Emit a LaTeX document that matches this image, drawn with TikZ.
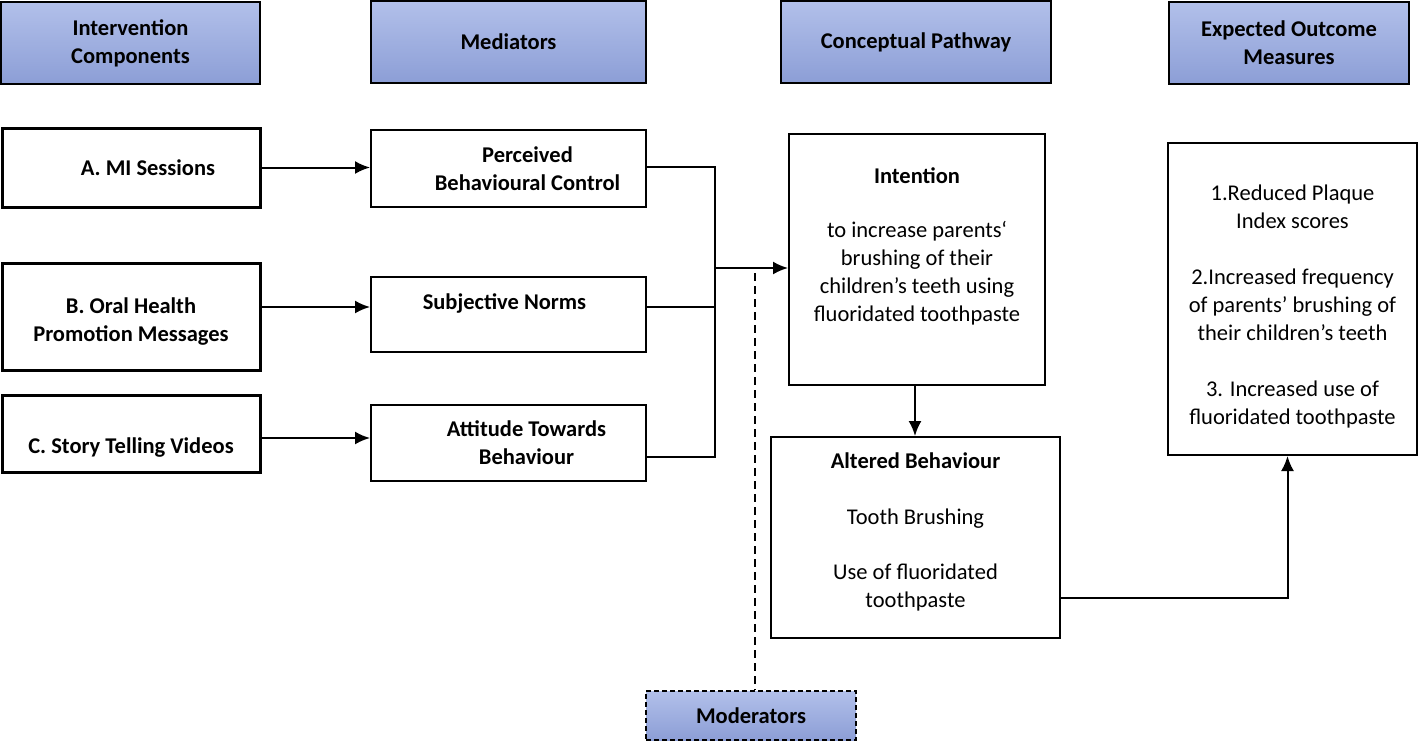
\documentclass[tikz,border=0pt]{standalone}
\usepackage{fontspec}
\setmainfont{Carlito}
\usetikzlibrary{arrows.meta,positioning,calc}

\begin{document}
\begin{tikzpicture}[x=1pt,y=-1pt,
	head/.style={draw,line width=1.2pt,top color={rgb,255:red,178;green,192;blue,234},bottom color={rgb,255:red,140;green,158;blue,214},align=center,font=\bfseries,inner sep=0pt},
	box/.style={draw,line width=2pt,fill=white,align=center,inner sep=0pt},
	comp/.style={box,line width=3pt,font=\bfseries,minimum width=258},
	link/.style={line width=2pt},
	arr/.style={line width=2pt,-{Latex[length=15pt,width=13pt]}}]
	\useasboundingbox (0,0) rectangle (1419,742);
	\fontsize{22.5}{28}\selectfont
	% headers
	\node[head,minimum width=259,minimum height=82] (h1) at (130.5,43) {Intervention\\Components};
	\node[head,minimum width=275,minimum height=82] (h2) at (508.5,42) {Mediators};
	\node[head,minimum width=270,minimum height=82] (h3) at (916,42) {Conceptual Pathway};
	\node[head,minimum width=240,minimum height=82] (h4) at (1289,43) {Expected Outcome\\Measures};
	% intervention components
	\node[comp,minimum height=79] (compA) at (131,167.5) {\hspace*{34pt}A. MI Sessions};
	\node[comp,minimum height=107] (compB) at (131,316.5) {\rule{0pt}{25pt}B. Oral Health\\Promotion Messages};
	\node[comp,minimum height=77] (compC) at (131,434) {\rule{0pt}{43pt}C. Story Telling Videos};
	% mediators
	\node[box,font=\bfseries,minimum width=275,minimum height=77] (pbc) at (508.5,168.5) {\hspace*{38pt}Perceived\\\hspace*{38pt}Behavioural Control};
	\node[box,font=\bfseries,minimum width=275,minimum height=75] (norms) at (508.5,314.5) {\hspace*{-8pt}Subjective Norms\\[-2pt]};
	\node[box,font=\bfseries,minimum width=275,minimum height=76] (att) at (508.5,443) {\hspace*{36pt}Attitude Towards\\\hspace*{36pt}Behaviour};
	% pathway
	\node[box,minimum width=256,minimum height=251] (intent) at (917,259.5) {\textbf{Intention}\\[26pt]to increase parents‘\\brushing of their\\children’s teeth using\\fluoridated toothpaste\rule[-29pt]{0pt}{29pt}};
	\node[box,minimum width=289,minimum height=201] (alter) at (915.5,537.5) {\textbf{Altered Behaviour}\\[28pt]Tooth Brushing\\[27pt]Use of fluoridated\\toothpaste\rule[-15pt]{0pt}{15pt}};
	\node[box,minimum width=249,minimum height=312] (outc) at (1292.5,299) {\rule{0pt}{30pt}1.Reduced Plaque\\Index scores\\[28pt]2.Increased frequency\\of parents’ brushing of\\their children’s teeth\\[28pt]3. Increased use of\\fluoridated toothpaste};
	\node[head,dash pattern=on 5pt off 3pt,minimum width=210,minimum height=49] (moder) at (751,715.5) {Moderators};
	% connectors
	\coordinate (jn) at (715,268);
	\coordinate (mtop) at (755,273);
	\draw[arr] (compA.east) -- (compA.east -| pbc.west);
	\draw[arr] ([yshift=9.5pt]compB.east) -- ([yshift=9.5pt]compB.east -| norms.west);
	\draw[arr] ([yshift=-4pt]compC.east) -- ([yshift=-4pt]compC.east -| att.west);
	\draw[link] ([yshift=1.5pt]pbc.east) -| (jn) |- ([yshift=-14pt]att.east);
	\draw[link] ([yshift=7.5pt]norms.east) -- ([yshift=7.5pt]norms.east -| jn);
	\draw[arr] (jn) -- (jn -| intent.west);
	\draw[line width=1.8pt,dash pattern=on 8pt off 5pt] (mtop) -- (mtop |- moder.north);
	\draw[arr] ([xshift=-2pt]intent.south) -- ([xshift=-2pt]intent.south |- alter.north);
	\draw[arr] ([yshift=-60pt]alter.east) -| ([xshift=-5pt]outc.south);
\end{tikzpicture}
\end{document}
